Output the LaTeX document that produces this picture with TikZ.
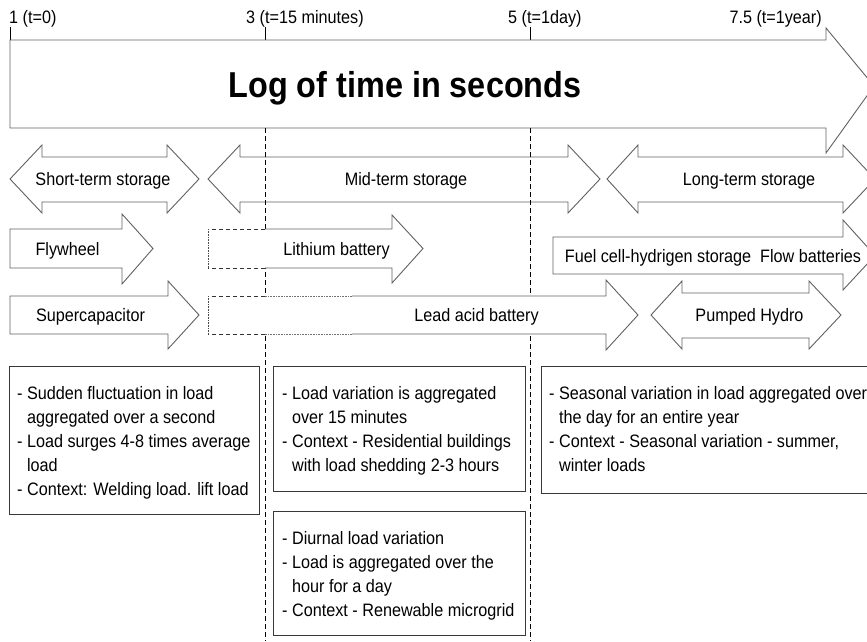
\documentclass[tikz,border=0pt]{standalone}
\usepackage{fontspec}
\setmainfont{Liberation Sans}[FakeStretch=0.9]
\begin{document}
\begin{tikzpicture}[x=1pt,y=-1pt,
  outl/.style={draw=black!62, line width=0.9pt, fill=white, line join=miter},
  edgeline/.style={draw=black!62, line width=0.9pt},
  dashedge/.style={draw=black!80, line width=0.8pt, dash pattern=on 4pt off 3pt},
  dotedge/.style={draw=black!70, line width=0.7pt, dash pattern=on 0.8pt off 0.8pt},
  guide/.style={draw=black, line width=0.8pt, dash pattern=on 5pt off 3pt},
  tick/.style={draw=black, line width=0.8pt},
  lbl/.style={font=\fontsize{18}{24}\selectfont, inner sep=0pt, anchor=base},
  toplbl/.style={font=\fontsize{18}{24}\selectfont, inner sep=0pt},
  infobox/.style={draw=black!78, line width=1.2pt, fill=white, inner sep=0pt, anchor=north west},
  infotext/.style={font=\fontsize{18}{24}\selectfont, inner sep=0pt, align=left, anchor=north west},
]
\clip (0,0) rectangle (867,641);
\fill[white] (0,0) rectangle (867,641);

% time axis labels and ticks
\node[toplbl, anchor=base west] (t1) at (9,23) {1 (t=0)};
\node[toplbl, anchor=base west] (t3) at (246,23) {3 (t=15 minutes)};
\node[toplbl, anchor=base west] (t5) at (508,23) {5 (t=1day)};
\node[toplbl, anchor=base east] (t75) at (822,23) {7.5 (t=1year)};
\draw[tick] (10,27) -- (10,40);
\draw[tick] (265,27) -- (265,40);
\draw[tick] (530,27) -- (530,40);

% big time arrow
\draw[outl] (10,40) -- (826,40) -- (826,28) -- (874,86) -- (826,153) -- (826,128) -- (10,128) -- cycle;
\node[font=\bfseries\fontsize{36}{40}\selectfont, inner sep=0pt, anchor=base] (title) at (405,97) {Log of time in seconds};

% storage horizons
\draw[outl] (10,179) -- (42,145) -- (42,157) -- (167,157) -- (167,145) -- (199,179) -- (167,213) -- (167,202) -- (42,202) -- (42,213) -- cycle;
\draw[outl] (208,179) -- (240,145) -- (240,157) -- (568,157) -- (568,145) -- (600,179) -- (568,213) -- (568,202) -- (240,202) -- (240,213) -- cycle;
\draw[outl] (607,179) -- (638,145) -- (638,157) -- (843,157) -- (843,145) -- (875,179) -- (843,213) -- (843,202) -- (638,202) -- (638,213) -- cycle;
\node[lbl] (short) at (103,185.5) {Short-term storage};
\node[lbl] (mid) at (406,185.5) {Mid-term storage};
\node[lbl] (long) at (749,185.5) {Long-term storage};

% time boundaries
\draw[guide] (265,128) -- (265,641);
\draw[guide] (530,128) -- (530,641);

% flywheel
\draw[outl] (10,229) -- (122,229) -- (122,214) -- (153,248.5) -- (122,284) -- (122,268) -- (10,268) -- cycle;
\node[lbl] (fly) at (67.5,255) {Flywheel};

% lithium battery (dashed extension on the left)
\fill[white] (208,229) -- (392,229) -- (392,215) -- (423,248.5) -- (392,283) -- (392,268) -- (208,268) -- cycle;
\draw[edgeline] (265,229) -- (392,229) -- (392,215) -- (423,248.5) -- (392,283) -- (392,268) -- (265,268);
\draw[dashedge] (265,229) -- (208,229);
\draw[dashedge] (265,268) -- (208,268);
\draw[dotedge] (208,229) -- (208,268);
\node[lbl] (li) at (336.5,255) {Lithium battery};

% fuel cell / flow batteries
\draw[outl] (553,237) -- (843,237) -- (843,220) -- (875,255.5) -- (843,290) -- (843,274) -- (553,274) -- cycle;
\node[lbl] (fuel) at (713,262) {Fuel cell-hydrigen storage~~Flow batteries};

% supercapacitor
\draw[outl] (10,296) -- (168,296) -- (168,281) -- (199,315) -- (168,349) -- (168,334) -- (10,334) -- cycle;
\node[lbl] (sc) at (90.5,321.5) {Supercapacitor};

% lead acid battery (dashed and dotted extension on the left)
\fill[white] (208,296) -- (606,296) -- (606,280) -- (638,315) -- (606,350) -- (606,334) -- (208,334) -- cycle;
\draw[edgeline] (352,296) -- (606,296) -- (606,280) -- (638,315) -- (606,350) -- (606,334) -- (352,334);
\draw[dotedge, draw=black!55] (352,296) -- (265,296);
\draw[dotedge, draw=black!55] (352,334) -- (265,334);
\draw[dashedge] (265,296) -- (208,296);
\draw[dashedge] (265,334) -- (208,334);
\draw[dotedge] (208,296) -- (208,334);
\node[lbl] (lead) at (476.5,321.5) {Lead acid battery};

% pumped hydro
\draw[outl] (651,315) -- (682,281) -- (682,293) -- (809,293) -- (809,281) -- (841,315) -- (809,349) -- (809,338) -- (682,338) -- (682,349) -- cycle;
\node[lbl] (ph) at (749.5,321.5) {Pumped Hydro};

% load descriptions
\node[infobox, minimum width=250, minimum height=148] (b1) at (9,366) {};
\node[infotext] (b1t) at ([xshift=8pt,yshift=-20.4pt]b1.north west)
  {- Sudden fluctuation in load\\\phantom{- }aggregated over a second\\- Load surges 4-8 times average\\\phantom{- }load\\- Context: Welding load. lift load};

\node[infobox, minimum width=252, minimum height=125] (b2) at (273,366) {};
\node[infotext] (b2t) at ([xshift=9pt,yshift=-20.4pt]b2.north west)
  {- Load variation is aggregated\\\phantom{- }over 15 minutes\\- Context - Residential buildings\\\phantom{- }with load shedding 2-3 hours};

\node[infobox, minimum width=252, minimum height=124] (b3) at (273,511) {};
\node[infotext] (b3t) at ([xshift=9pt,yshift=-20.4pt]b3.north west)
  {- Diurnal load variation\\- Load is aggregated over the\\\phantom{- }hour for a day\\- Context - Renewable microgrid};

\node[infobox, minimum width=345, minimum height=127] (b4) at (541,366) {};
\node[infotext] (b4t) at ([xshift=8pt,yshift=-20.4pt]b4.north west)
  {- Seasonal variation in load aggregated over\\\phantom{- }the day for an entire year\\- Context - Seasonal variation - summer,\\\phantom{- }winter loads};
\end{tikzpicture}
\end{document}
